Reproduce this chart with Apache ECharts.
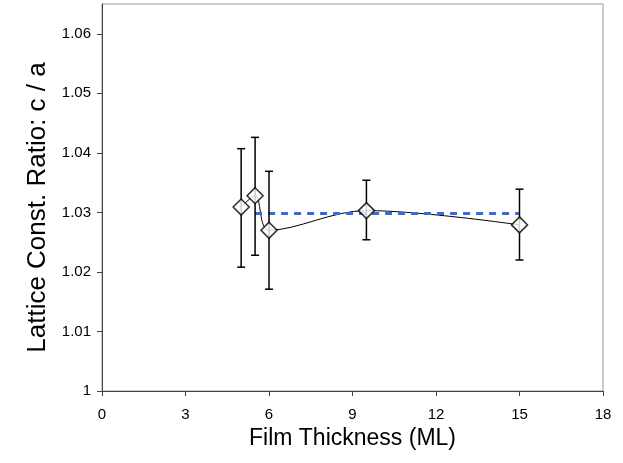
<!DOCTYPE html>
<html>
<head>
<meta charset="utf-8">
<script src="https://cdn.jsdelivr.net/npm/echarts@6/dist/echarts.min.js"></script>
<style>
  html, body { margin: 0; padding: 0; background: #fff; }
  #chart { width: 623px; height: 463px; }
</style>
</head>
<body>
<div id="chart"></div>
<script>
const thickness = [5, 5.5, 6, 9.5, 15];
const ratio = [1.0309, 1.0328, 1.0270, 1.0303, 1.0279];
const errLow = [1.0208, 1.0228, 1.0171, 1.0254, 1.0220];
const errHigh = [1.0407, 1.0426, 1.0369, 1.0354, 1.0339];
const fitX = [5.5, 15];
const fitY = [1.0298, 1.0298];
const yTicks = [1, 1.01, 1.02, 1.03, 1.04, 1.05, 1.06];

const font = 'Liberation Sans, Arial, sans-serif';
const axisColor = '#444';

const points = thickness.map((x, i) => [x, ratio[i]]);
const errors = thickness.map((x, i) => [x, errLow[i], errHigh[i]]);

const chart = echarts.init(document.getElementById('chart'));
chart.setOption({
  animation: false,
  grid: {
    left: 102,
    right: 20,
    top: 4,
    bottom: 72,
    show: true,
    borderColor: '#999',
    borderWidth: 1
  },
  xAxis: {
    type: 'value',
    min: 0,
    max: 18,
    interval: 3,
    name: 'Film Thickness (ML)',
    nameLocation: 'middle',
    nameGap: 36,
    nameTextStyle: { fontFamily: font, fontSize: 23, color: '#000' },
    axisLine: { lineStyle: { color: axisColor, width: 1 } },
    axisTick: { inside: false, length: 5, lineStyle: { color: axisColor } },
    axisLabel: { fontFamily: font, fontSize: 15, color: '#000', margin: 16 },
    splitLine: { show: false }
  },
  yAxis: {
    type: 'value',
    min: 1,
    max: 1.065,
    interval: 0.01,
    name: 'Lattice Const. Ratio: c / a',
    nameLocation: 'middle',
    nameGap: 33,
    nameTextStyle: { fontFamily: font, fontSize: 26, color: '#000', padding: [0, 20, 0, 0] },
    axisLine: { show: true, lineStyle: { color: axisColor, width: 1 } },
    axisTick: { show: true, inside: false, length: 5, lineStyle: { color: axisColor }, customValues: yTicks },
    axisLabel: {
      fontFamily: font,
      fontSize: 15,
      color: '#000',
      margin: 11,
      customValues: yTicks,
      formatter: v => (v === 1 ? '1' : v.toFixed(2))
    },
    splitLine: { show: false }
  },
  series: [
    {
      type: 'line',
      data: points,
      smooth: 0.35,
      symbol: 'none',
      lineStyle: { color: '#000', width: 1 },
      z: 1
    },
    {
      type: 'line',
      data: fitX.map((x, i) => [x, fitY[i]]),
      symbol: 'none',
      lineStyle: { color: '#3a66e8', width: 3, type: [7, 6] },
      z: 2
    },
    {
      type: 'custom',
      data: errors,
      renderItem: (params, api) => {
        const x = api.value(0);
        const lo = api.coord([x, api.value(1)]);
        const hi = api.coord([x, api.value(2)]);
        const cap = 4;
        const style = { stroke: '#000', lineWidth: 1.5 };
        return {
          type: 'group',
          children: [
            { type: 'line', shape: { x1: lo[0], y1: lo[1], x2: hi[0], y2: hi[1] }, style },
            { type: 'line', shape: { x1: lo[0] - cap, y1: lo[1], x2: lo[0] + cap, y2: lo[1] }, style },
            { type: 'line', shape: { x1: hi[0] - cap, y1: hi[1], x2: hi[0] + cap, y2: hi[1] }, style }
          ]
        };
      },
      z: 3
    },
    {
      type: 'scatter',
      data: points,
      symbol: 'diamond',
      symbolSize: 16,
      itemStyle: { color: '#fff', borderColor: '#000', borderWidth: 1.6 },
      z: 4
    }
  ]
});
</script>
</body>
</html>
